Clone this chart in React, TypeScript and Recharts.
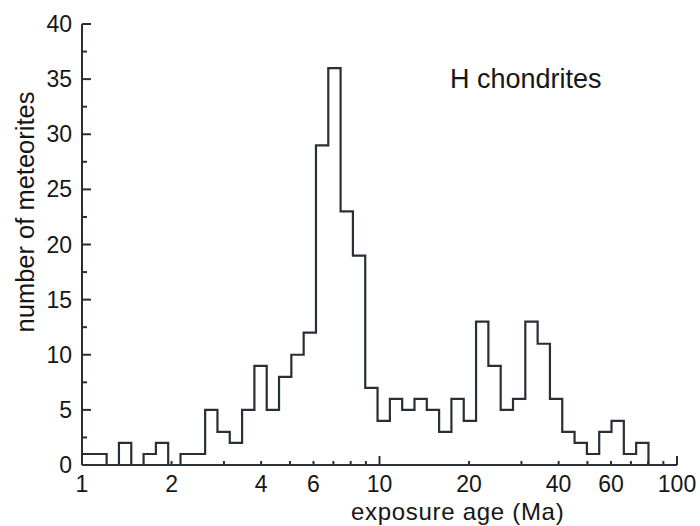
import { ComposedChart, Line, XAxis, YAxis } from 'recharts';

// bin edges (Ma), each bin 10% wider than the previous one
const binEdges = [
  1, 1.1, 1.21, 1.331, 1.4641, 1.6105, 1.7716, 1.9487, 2.1436, 2.3579,
  2.5937, 2.8531, 3.1384, 3.4523, 3.7975, 4.1772, 4.595, 5.0545, 5.5599, 6.1159,
  6.7275, 7.4002, 8.1403, 8.9543, 9.8497, 10.835, 11.918, 13.11, 14.421, 15.863,
  17.449, 19.194, 21.114, 23.225, 25.548, 28.102, 30.913, 34.004, 37.404, 41.145,
  45.259, 49.785, 54.764, 60.24, 66.264, 72.89, 80.18,
];

// number of meteorites per bin (one fewer than edges)
const counts = [
  1, 1, 0, 2, 0, 1, 2, 0, 1, 1,
  5, 3, 2, 5, 9, 5, 8, 10, 12, 29,
  36, 23, 19, 7, 4, 6, 5, 6, 5, 3,
  6, 4, 13, 9, 5, 6, 13, 11, 6, 3,
  2, 1, 3, 4, 1, 2,
];

const xTicks = [1, 2, 3, 4, 5, 6, 7, 8, 9, 10, 20, 30, 40, 50, 60, 70, 80, 90, 100];
const xLabels = [1, 2, 4, 6, 10, 20, 40, 60, 100];
const xDecades = [1, 10, 100];
const yTicks = [0, 2.5, 5, 7.5, 10, 12.5, 15, 17.5, 20, 22.5, 25, 27.5, 30, 32.5, 35, 37.5, 40];

const data = binEdges.map((edge, i) => ({ age: edge, count: counts[i] ?? 0 }));

const INK = '#2a2e36';
const TEXT = '#161616';
const FONT = '"Liberation Sans", Arial, sans-serif';

function BottomTick({ x, y, payload }: any) {
  const v = payload.value;
  const len = xDecades.includes(v) ? 9 : 4;
  return (
    <g>
      <line x1={x} x2={x} y1={y} y2={y - len} stroke={INK} strokeWidth={2} />
      {xLabels.includes(v) && (
        <text x={x} y={y + 27} textAnchor="middle" fontSize={23} fill={TEXT} fontFamily={FONT}>
          {v}
        </text>
      )}
    </g>
  );
}

function TopTick({ x, y }: any) {
  return <line x1={x} x2={x} y1={y} y2={y + 4} stroke={INK} strokeWidth={2} />;
}

function LeftTick({ x, y, payload }: any) {
  const v = payload.value;
  const major = v % 5 === 0;
  return (
    <g>
      <line x1={x} x2={x + (major ? 9 : 5)} y1={y} y2={y} stroke={INK} strokeWidth={2} />
      {major && (
        <text x={x - 10} y={y + 8} textAnchor="end" fontSize={23} fill={TEXT} fontFamily={FONT}>
          {v}
        </text>
      )}
    </g>
  );
}

export default function App() {
  return (
    <div style={{ position: 'absolute', left: 0, top: 0, width: 700, height: 526, background: '#fff', fontFamily: FONT, overflow: 'hidden' }}>
      <ComposedChart width={700} height={526} data={data} margin={{ top: 24, right: 23, bottom: 0, left: 0 }}>
        <XAxis
          dataKey="age"
          type="number"
          scale="log"
          domain={[1, 100]}
          allowDataOverflow
          ticks={xTicks}
          interval={0}
          tick={<BottomTick />}
          tickLine={false}
          tickSize={0}
          tickMargin={0}
          height={61}
          axisLine={{ stroke: INK, strokeWidth: 2 }}
        />
        <XAxis
          xAxisId="top"
          orientation="top"
          type="number"
          scale="log"
          domain={[1, 100]}
          allowDataOverflow
          ticks={xTicks}
          interval={0}
          tick={<TopTick />}
          tickLine={false}
          tickSize={0}
          tickMargin={0}
          height={0}
          axisLine={{ stroke: INK, strokeWidth: 2 }}
        />
        <YAxis
          type="number"
          domain={[0, 40]}
          ticks={yTicks}
          interval={0}
          tick={<LeftTick />}
          tickLine={false}
          tickSize={0}
          tickMargin={0}
          width={82}
          axisLine={{ stroke: INK, strokeWidth: 2 }}
        />
        <YAxis
          yAxisId="right"
          orientation="right"
          type="number"
          domain={[0, 40]}
          tick={false}
          tickLine={false}
          width={0}
          axisLine={{ stroke: INK, strokeWidth: 2 }}
        />
        <Line
          dataKey="count"
          type="stepAfter"
          stroke={INK}
          strokeWidth={2.2}
          dot={false}
          isAnimationActive={false}
        />
      </ComposedChart>
      <div style={{ position: 'absolute', left: 450, top: 66, fontSize: 27, color: TEXT, whiteSpace: 'nowrap', lineHeight: 1 }}>
        H chondrites
      </div>
      <div
        style={{
          position: 'absolute',
          left: 351,
          top: 500,
          fontSize: 24,
          letterSpacing: 0.7,
          color: TEXT,
          whiteSpace: 'nowrap',
          lineHeight: 1,
        }}
      >
        exposure age (Ma)
      </div>
      <div
        style={{
          position: 'absolute',
          left: 26,
          top: 212,
          fontSize: 25.5,
          color: TEXT,
          whiteSpace: 'nowrap',
          lineHeight: 1,
          transform: 'translate(-50%, -50%) rotate(-90deg)',
        }}
      >
        number of meteorites
      </div>
    </div>
  );
}
